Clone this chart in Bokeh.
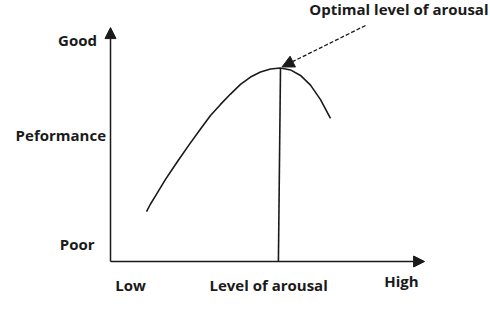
from bokeh.plotting import figure
from bokeh.models import Range1d, Arrow, NormalHead, Label
from bokeh.embed import file_html
from bokeh.resources import INLINE

# Curve: level of arousal (x) vs performance (y)
arousal = [1.2, 1.333, 1.5, 1.833, 2.233, 2.6, 3.0, 3.333, 3.667, 4.0, 4.333,
           4.667, 5.0, 5.333, 5.667, 6.0, 6.333, 6.667, 7.0, 7.333]
performance = [2.17, 2.5, 2.85, 3.57, 4.35, 5.04, 5.76, 6.35, 6.83, 7.28, 7.70,
               8.02, 8.24, 8.37, 8.41, 8.33, 8.09, 7.67, 7.04, 6.22]

optimal_x = 5.667
optimal_y = 8.41
x_axis_end = 10.47
y_axis_end = 10.17
annot_start = (8.5, 10.26)

y_labels = ["Good", "Peformance", "Poor"]
y_label_x = [-0.45, -0.15, -0.53]
y_label_y = [9.65, 5.48, 0.78]
x_labels = ["Low", "Level of arousal", "High"]
x_label_x = [0.67, 5.27, 9.7]
x_label_y = [-1.04, -1.04, -0.83]
annot_text = "Optimal level of arousal"

FONT = "Open Sans"
INK = "#1a1a1a"
SIZE = "15px"

p = figure(width=490, height=330, output_backend="svg", toolbar_location=None,
           x_range=Range1d(-3.667, 12.667), y_range=Range1d(-3.0, 11.348),
           min_border=0)
p.axis.visible = False
p.grid.visible = False
p.outline_line_color = None
p.background_fill_color = "white"
p.border_fill_color = "white"

# axes with arrowheads
p.add_layout(Arrow(end=NormalHead(size=11, fill_color=INK, line_color=INK),
                   x_start=0, y_start=0, x_end=0, y_end=y_axis_end,
                   line_width=1.5, line_color=INK))
p.add_layout(Arrow(end=NormalHead(size=11, fill_color=INK, line_color=INK),
                   x_start=0, y_start=0, x_end=x_axis_end, y_end=0,
                   line_width=1.5, line_color=INK))

# curve
p.line(arousal, performance, line_width=1.6, line_color=INK, line_join="round")

# vertical line at optimum
p.segment(x0=[optimal_x], y0=[optimal_y], x1=[optimal_x - 0.07], y1=[0],
          line_width=1.6, line_color=INK)

# dashed annotation arrow
p.add_layout(Arrow(end=NormalHead(size=12, fill_color=INK, line_color=INK),
                   x_start=annot_start[0], y_start=annot_start[1],
                   x_end=optimal_x + 0.05, y_end=optimal_y + 0.05,
                   line_width=1.3, line_color=INK, line_dash="4 2"))

for t, x, y in zip(y_labels, y_label_x, y_label_y):
    p.add_layout(Label(x=x, y=y, text=t, text_font=FONT, text_font_style="bold",
                       text_font_size=SIZE, text_align="right",
                       text_baseline="middle", text_color=INK))

for t, x, y in zip(x_labels, x_label_x, x_label_y):
    p.add_layout(Label(x=x, y=y, text=t, text_font=FONT, text_font_style="bold",
                       text_font_size=SIZE, text_align="center",
                       text_baseline="middle", text_color=INK))

p.add_layout(Label(x=12.6, y=11.0, text=annot_text, text_font=FONT,
                   text_font_style="bold", text_font_size=SIZE,
                   text_align="right", text_baseline="middle", text_color=INK))

open("out.html", "w").write(file_html(p, INLINE))
